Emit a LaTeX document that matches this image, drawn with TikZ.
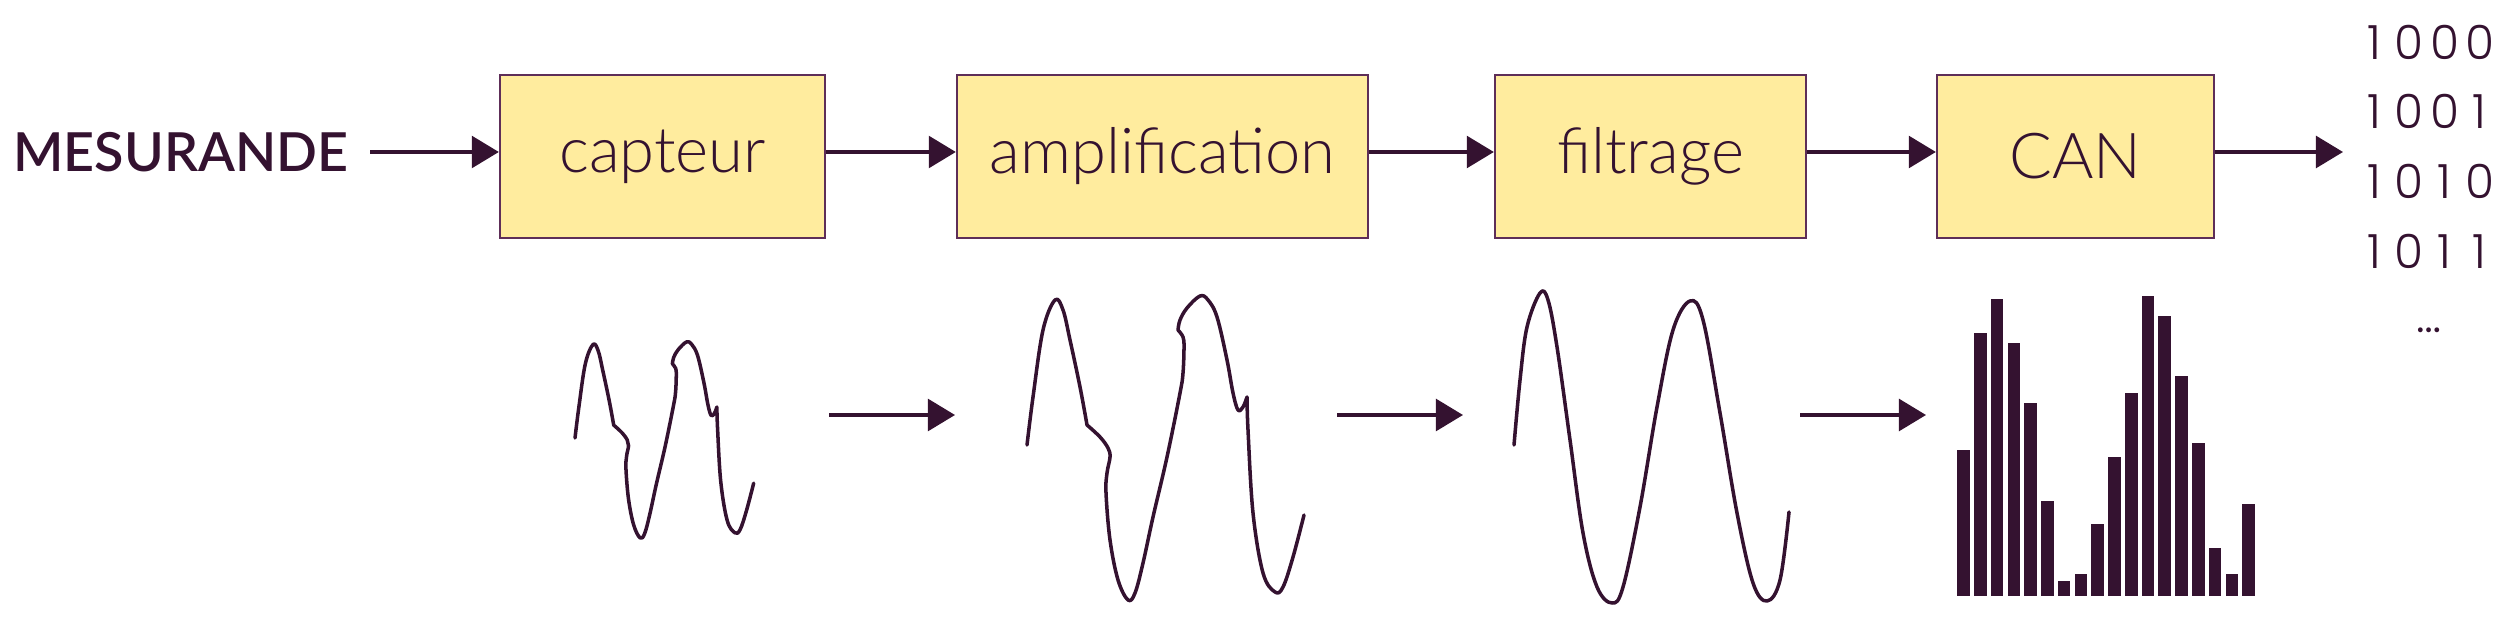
\documentclass[tikz,border=0pt]{standalone}
\usepackage{fontspec}
\setmainfont{Lato}
\newfontfamily\leger{Lato Light}
\newfontfamily\demigras{Lato Semibold}
\newfontfamily\nombres{Poppins Light}
\usetikzlibrary{arrows.meta}
\definecolor{encre}{RGB}{52,18,48}
\definecolor{jaune}{RGB}{255,236,158}
\definecolor{bord}{RGB}{94,46,88}
\tikzstyle{bloc} = [draw=bord, line width=0.6pt, fill=jaune, text=encre, minimum height=1.63cm, font=\leger\fontsize{18}{20}\selectfont]
\tikzstyle{fleche} = [draw=encre, line width=1.1pt, -{Triangle[length=7.7pt,width=9pt]}]
\tikzstyle{signal} = [draw=encre, line width=1pt, line join=round, line cap=round]
\tikzstyle{chiffre} = [text=encre, font=\nombres\fontsize{13.4}{16}\selectfont]
% un chiffre dans une case de largeur fixe
\newcommand{\bit}[1]{\makebox[10pt]{#1}}

% signal brut (coordonnees de la version amplifiee)
\newcommand{\signalbrut}{%
\draw[signal] plot[smooth,tension=0.6] coordinates {(1027,445) (1033,397) (1043,330) (1055,300) (1063,310) (1070,340) (1080,387) (1087,425)}
 -- plot[smooth,tension=0.6] coordinates {(1087,425) (1100,437) (1108,448) (1110,457) (1107,473) (1106,493) (1110,540) (1118,580) (1128,600) (1135,593) (1143,563) (1153,517) (1167,457) (1180,393) (1183,373) (1184,347) (1183,337) (1178,330)}
 -- plot[smooth,tension=0.6] coordinates {(1178,330) (1180,320) (1187,308) (1200,296) (1208,300) (1217,317) (1227,360) (1233,393) (1238,410) (1243,407) (1247,397)}
 -- plot[smooth,tension=0.6] coordinates {(1247,397) (1248,430) (1253,513) (1263,573) (1275,592) (1283,587) (1293,557) (1304,515)};}

\begin{document}
\begin{tikzpicture}[x=0.01cm, y=-0.01cm]
\useasboundingbox (0,0) rectangle (2501,625);

% chaine de mesure
\node[text=encre, font=\demigras\fontsize{15.3}{18}\selectfont] (mes) at (181,152) {MESURANDE};
\node[bloc, minimum width=3.25cm] (capteur) at (662.5,156.5) {capteur};
\node[bloc, minimum width=4.11cm] (ampli) at (1162.5,156.5) {amplification};
\node[bloc, minimum width=3.11cm] (filtrage) at (1650.5,156.5) {filtrage};
\node[bloc, minimum width=2.77cm] (can) at (2075.5,156.5) {CAN};
\coordinate (sortie) at (2343,152);

\draw[fleche] ([xshift=2.6pt]mes.east) -- (capteur.west |- mes);
\draw[fleche] (capteur.east |- mes) -- (ampli.west |- mes);
\draw[fleche] (ampli.east |- mes) -- (filtrage.west |- mes);
\draw[fleche] (filtrage.east |- mes) -- (can.west |- mes);
\draw[fleche] (can.east |- mes) -- (sortie);

% mots binaires
\foreach \a/\b/\c/\d [count=\i from 0] in {1/0/0/0, 1/0/0/1, 1/0/1/0, 1/0/1/1}
  \node[chiffre] (b\i) at (2427,{42+69.7*\i}) {\bit\a\bit\b\bit\c\bit\d};
\node[chiffre] (b4) at (2429,330) {\dots};

% signaux
\begin{scope}[shift={(575,438)}, scale=0.645, shift={(-1027,-445)}]
\signalbrut
\end{scope}
\signalbrut
\draw[signal] plot[smooth,tension=0.6] coordinates {(1514,445) (1520,380) (1527,327) (1540,293) (1548,300) (1557,347) (1570,440) (1583,533) (1597,587) (1612,603) (1623,587) (1640,507) (1657,407) (1673,330) (1690,301) (1703,320) (1720,413) (1737,513) (1753,583) (1767,601) (1780,580) (1789,512)};

% echantillons
\foreach \h [count=\i from 0] in {146,263,297,253,193,95,15,22,72,139,203,300,280,220,153,48,22,92}
  \fill[encre] ({1957.3+16.76*\i},596) rectangle ++(12.6,-\h);

% fleches du bas
\coordinate (f1a) at (829,415);
\coordinate (f1b) at (955,415);
\coordinate (f2a) at (1337,415);
\coordinate (f2b) at (1463,415);
\coordinate (f3a) at (1800,415);
\coordinate (f3b) at (1926,415);
\draw[fleche] (f1a) -- (f1b);
\draw[fleche] (f2a) -- (f2b);
\draw[fleche] (f3a) -- (f3b);
\end{tikzpicture}
\end{document}
